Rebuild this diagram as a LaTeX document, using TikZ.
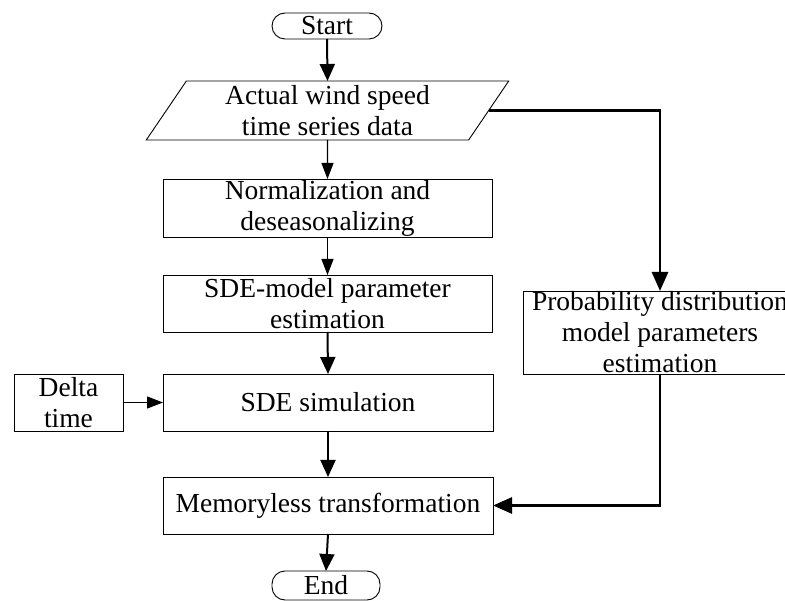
\documentclass[tikz,border=0pt]{standalone}
\usepackage{fontspec}
\setmainfont{Liberation Serif}
\usetikzlibrary{arrows.meta,shapes.geometric}
\begin{document}
\begin{tikzpicture}[x=1pt,y=-1pt,
  every node/.style={font=\fontsize{27.5}{31}\selectfont, inner sep=0pt, outer sep=0pt, align=center},
  box/.style={draw, line width=0.9pt, rectangle},
  term/.style={draw, line width=0.9pt, rectangle, rounded corners=13pt},
  para/.style={draw, line width=0.9pt, trapezium, trapezium left angle=60, trapezium right angle=120, trapezium stretches=true},
  thinar/.style={line width=1.2pt, -{Triangle[length=16pt,width=12pt]}},
  medar/.style={line width=2pt, -{Triangle[length=17pt,width=15pt]}},
  thickar/.style={line width=2.8pt, -{Triangle[length=19pt,width=16pt]}}
]
\useasboundingbox (0,0) rectangle (785,601);
\fill[white] (0,0) rectangle (785,601);

\node[term, minimum width=110pt, minimum height=26pt] (start) at (327,26) {Start};
\node[para, minimum width=363pt, minimum height=59pt] (data) at (327.5,110.5) {Actual wind speed\\time series data};
\node[box, minimum width=329pt, minimum height=58pt] (norm) at (327.5,208) {Normalization and\\deseasonalizing};
\node[box, minimum width=329pt, minimum height=57pt] (sdep) at (327.5,303.5) {SDE-model parameter\\estimation};
\node[box, minimum width=330pt, minimum height=57pt] (sim) at (328,402.5) {SDE simulation};
\node[box, minimum width=109pt, minimum height=57pt] (delta) at (68.5,402.5) {Delta\\time};
\node[box, minimum width=330pt, minimum height=57pt] (mem) at (328,505.5) {Memoryless transformation};
\node[term, minimum width=108pt, minimum height=29pt] (end) at (326,585.5) {End};
\node[box, minimum width=274pt, minimum height=83pt] (prob) at (660,332.5) {};
\node (probtext) at (prob.center) {Probability distribution\\model parameters\\estimation};

\draw[medar] (start.south) -- (data.north);
\draw[thinar] (data.south) -- (norm.north);
\draw[thinar] (norm.south) -- (sdep.north);
\draw[medar] (sdep.south) -- (sim.north);
\draw[thinar] (delta.east) -- (sim.west);
\draw[medar] (sim.south) -- (mem.north);
\draw[medar] (mem.south) -- (end.north);
\draw[thickar] (data.east) -| (prob.north);
\draw[thickar] (prob.south) |- (mem.east);
\end{tikzpicture}
\end{document}
